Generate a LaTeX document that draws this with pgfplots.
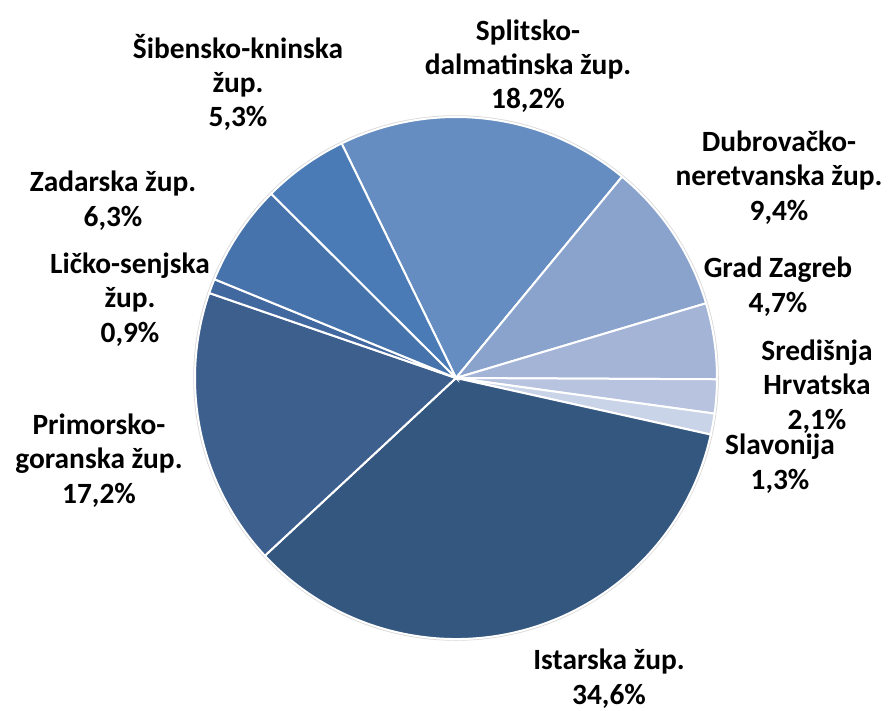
\documentclass[border=0pt]{standalone}
\usepackage{pgfplots}
\pgfplotsset{compat=1.18}
\usepackage{fontspec}
\setmainfont{Carlito}

\definecolor{cSpl}{HTML}{658DC2}
\definecolor{cDub}{HTML}{8AA3CC}
\definecolor{cZg}{HTML}{A3B4D7}
\definecolor{cSre}{HTML}{B8C4DF}
\definecolor{cSla}{HTML}{CAD4E8}
\definecolor{cIst}{HTML}{34577F}
\definecolor{cPri}{HTML}{3D5F8E}
\definecolor{cLic}{HTML}{4268A0}
\definecolor{cZad}{HTML}{4673AB}
\definecolor{cSib}{HTML}{4A7BB6}

% labels: anchored at the baseline of their last line
\tikzset{lbl/.style={font=\bfseries\fontsize{29.5}{34.5}\selectfont, align=center, anchor=base, text=black, inner sep=0pt}}

% slice: cumulative share before it, share, colour
\newcommand\slice[3]{%
  \fill[#3, draw=white, line width=2bp] (axis cs:456,378) -- ++({116-3.6*#1}:261bp)
    arc[start angle={116-3.6*#1}, delta angle={-3.6*#2}, radius=261bp] -- cycle;}

\begin{document}
\begin{tikzpicture}
\begin{axis}[
    width=889bp, height=711bp,
    scale only axis,
    xmin=0, xmax=889, ymin=0, ymax=711,
    y dir=reverse,
    hide axis,
    clip=false,
]
\draw[black!15, line width=1.5bp] (axis cs:456,378) circle[radius=262bp];
\slice{0}{18.2}{cSpl}
\slice{18.2}{9.4}{cDub}
\slice{27.6}{4.7}{cZg}
\slice{32.3}{2.1}{cSre}
\slice{34.4}{1.3}{cSla}
\slice{35.7}{34.6}{cIst}
\slice{70.3}{17.2}{cPri}
\slice{87.5}{0.9}{cLic}
\slice{88.4}{6.3}{cZad}
\slice{94.7}{5.3}{cSib}

\node[lbl] at (axis cs:528,109) {Splitsko-\\dalmatinska žup.\\18,2\%};
\node[lbl] at (axis cs:779,220) {Dubrovačko-\\neretvanska žup.\\9,4\%};
\node[lbl] at (axis cs:778,312) {Grad Zagreb\\4,7\%};
\node[lbl] at (axis cs:817,429) {Središnja\\Hrvatska\\2,1\%};
\node[lbl] at (axis cs:780,489) {Slavonija\\1,3\%};
\node[lbl] at (axis cs:609,704) {Istarska žup.\\34,6\%};
\node[lbl] at (axis cs:99,503) {Primorsko-\\goranska žup.\\17,2\%};
\node[lbl] at (axis cs:130,342) {Ličko-senjska\\žup.\\0,9\%};
\node[lbl] at (axis cs:113,226) {Zadarska žup.\\6,3\%};
\node[lbl] at (axis cs:238,127) {Šibensko-kninska\\žup.\\5,3\%};
\end{axis}
\pgfresetboundingbox
\path (current axis.south west) rectangle (current axis.north east);
\end{tikzpicture}
\end{document}
